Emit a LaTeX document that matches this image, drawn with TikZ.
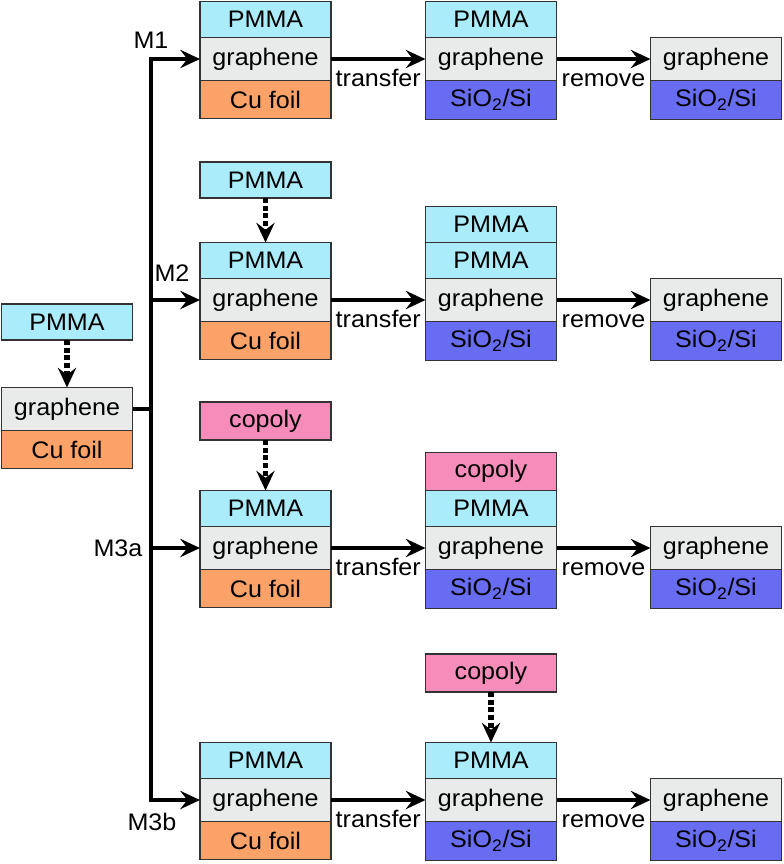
\documentclass[tikz,border=0pt]{standalone}
\usepackage{fontspec}
\setmainfont{Liberation Sans}[FakeStretch=1.05]
\usetikzlibrary{positioning}
\usetikzlibrary{arrows.meta}

\definecolor{pmmacol}{RGB}{170,236,250}
\definecolor{graphcol}{RGB}{233,235,235}
\definecolor{cucol}{RGB}{250,162,104}
\definecolor{siocol}{RGB}{104,108,240}
\definecolor{copolycol}{RGB}{246,140,186}

\begin{document}
\begin{tikzpicture}[x=0.025cm,y=-0.025cm]
	 \tikzstyle{layer}=[draw=black!80,line width=1pt,minimum width=3.275cm,inner sep=0pt,outer sep=0pt,font=\fontsize{17}{19}\selectfont]
	 \tikzstyle{pmma}=[layer,fill=pmmacol,minimum height=0.9cm]
	 \tikzstyle{copoly}=[layer,fill=copolycol,minimum height=0.95cm]
	 \tikzstyle{graphene}=[layer,fill=graphcol,minimum height=1.075cm]
	 \tikzstyle{cufoil}=[layer,fill=cucol,minimum height=0.95cm]
	 \tikzstyle{sio}=[layer,fill=siocol,minimum height=0.97cm]
	 \tikzstyle{trunk}=[line width=3.2pt,black]
	 \tikzstyle{flow}=[trunk,-{Stealth[length=14pt,width=13pt,inset=5pt]}]
	 \tikzstyle{dotflow}=[flow,line width=4.2pt,dash pattern=on 3.5pt off 2pt]
	 \tikzstyle{steplabel}=[font=\fontsize{17}{19}\selectfont,anchor=base,midway,yshift=-0.68cm]
	 \tikzstyle{methodlabel}=[font=\fontsize{17}{19}\selectfont]

	\useasboundingbox (0,0) rectangle (784,864);

	% starting sample
	\node[graphene] (g0) at (67,409) {graphene};
	\node[cufoil, below=0pt of g0] (c0) {Cu foil};
	\node[pmma] (pa0) at (67,322) {PMMA};
	\draw[dotflow] (pa0.south) -- (g0.north);

	% M1
	\node[graphene] (g1) at (265.5,59) {graphene};
	\node[pmma, above=0pt of g1] (p1) {PMMA};
	\node[cufoil, below=0pt of g1] (c1) {Cu foil};
	\node[graphene] (h1) at (491,59) {graphene};
	\node[pmma, above=0pt of h1] (q1) {PMMA};
	\node[sio, below=0pt of h1] (s1) {SiO\textsubscript{2}/Si};
	\node[graphene] (k1) at (716,59) {graphene};
	\node[sio, below=0pt of k1] (t1) {SiO\textsubscript{2}/Si};
	\draw[flow] (g1.east) -- node[steplabel] {transfer} (h1.west);
	\draw[flow] (h1.east) -- node[steplabel] {remove} (k1.west);

	% M2
	\node[graphene] (g2) at (265.5,300) {graphene};
	\node[pmma, above=0pt of g2] (p2) {PMMA};
	\node[cufoil, below=0pt of g2] (c2) {Cu foil};
	\node[pmma] (pa2) at (265.5,180) {PMMA};
	\draw[dotflow] (pa2.south) -- (p2.north);
	\node[graphene] (h2) at (491,300) {graphene};
	\node[pmma, above=0pt of h2] (q2) {PMMA};
	\node[pmma, above=0pt of q2] (qq2) {PMMA};
	\node[sio, below=0pt of h2] (s2) {SiO\textsubscript{2}/Si};
	\node[graphene] (k2) at (716,300) {graphene};
	\node[sio, below=0pt of k2] (t2) {SiO\textsubscript{2}/Si};
	\draw[flow] (g2.east) -- node[steplabel] {transfer} (h2.west);
	\draw[flow] (h2.east) -- node[steplabel] {remove} (k2.west);

	% M3a
	\node[graphene] (g3) at (265.5,548) {graphene};
	\node[pmma, above=0pt of g3] (p3) {PMMA};
	\node[cufoil, below=0pt of g3] (c3) {Cu foil};
	\node[copoly] (ca3) at (265.5,421) {copoly};
	\draw[dotflow] (ca3.south) -- (p3.north);
	\node[graphene] (h3) at (491,548) {graphene};
	\node[pmma, above=0pt of h3] (q3) {PMMA};
	\node[copoly, above=0pt of q3] (qq3) {copoly};
	\node[sio, below=0pt of h3] (s3) {SiO\textsubscript{2}/Si};
	\node[graphene] (k3) at (716,548) {graphene};
	\node[sio, below=0pt of k3] (t3) {SiO\textsubscript{2}/Si};
	\draw[flow] (g3.east) -- node[steplabel] {transfer} (h3.west);
	\draw[flow] (h3.east) -- node[steplabel] {remove} (k3.west);

	% M3b
	\node[graphene] (g4) at (265.5,800) {graphene};
	\node[pmma, above=0pt of g4] (p4) {PMMA};
	\node[cufoil, below=0pt of g4] (c4) {Cu foil};
	\node[graphene] (h4) at (491,800) {graphene};
	\node[pmma, above=0pt of h4] (q4) {PMMA};
	\node[sio, below=0pt of h4] (s4) {SiO\textsubscript{2}/Si};
	\node[copoly] (ca4) at (491,673) {copoly};
	\draw[dotflow] (ca4.south) -- (q4.north);
	\node[graphene] (k4) at (716,800) {graphene};
	\node[sio, below=0pt of k4] (t4) {SiO\textsubscript{2}/Si};
	\draw[flow] (g4.east) -- node[steplabel] {transfer} (h4.west);
	\draw[flow] (h4.east) -- node[steplabel] {remove} (k4.west);

	% branching line
	\coordinate (tr) at (151,0);
	\draw[trunk] (g0.east) -- (tr |- g0.east);
	\draw[flow] (tr |- g2.west) |- (g1.west);
	\draw[flow] (tr |- g2.west) -- (g2.west);
	\draw[trunk] (tr |- g2.west) -- (tr |- g3.west);
	\draw[flow] (tr |- g3.west) -- (g3.west);
	\draw[flow] (tr |- g3.west) |- (g4.west);

	\node[methodlabel] (m1) at (151,40) {M1};
	\node[methodlabel] (m2) at (172,273) {M2};
	\node[methodlabel] (m3a) at (118,548) {M3a};
	\node[methodlabel] (m3b) at (152,822) {M3b};
\end{tikzpicture}
\end{document}
